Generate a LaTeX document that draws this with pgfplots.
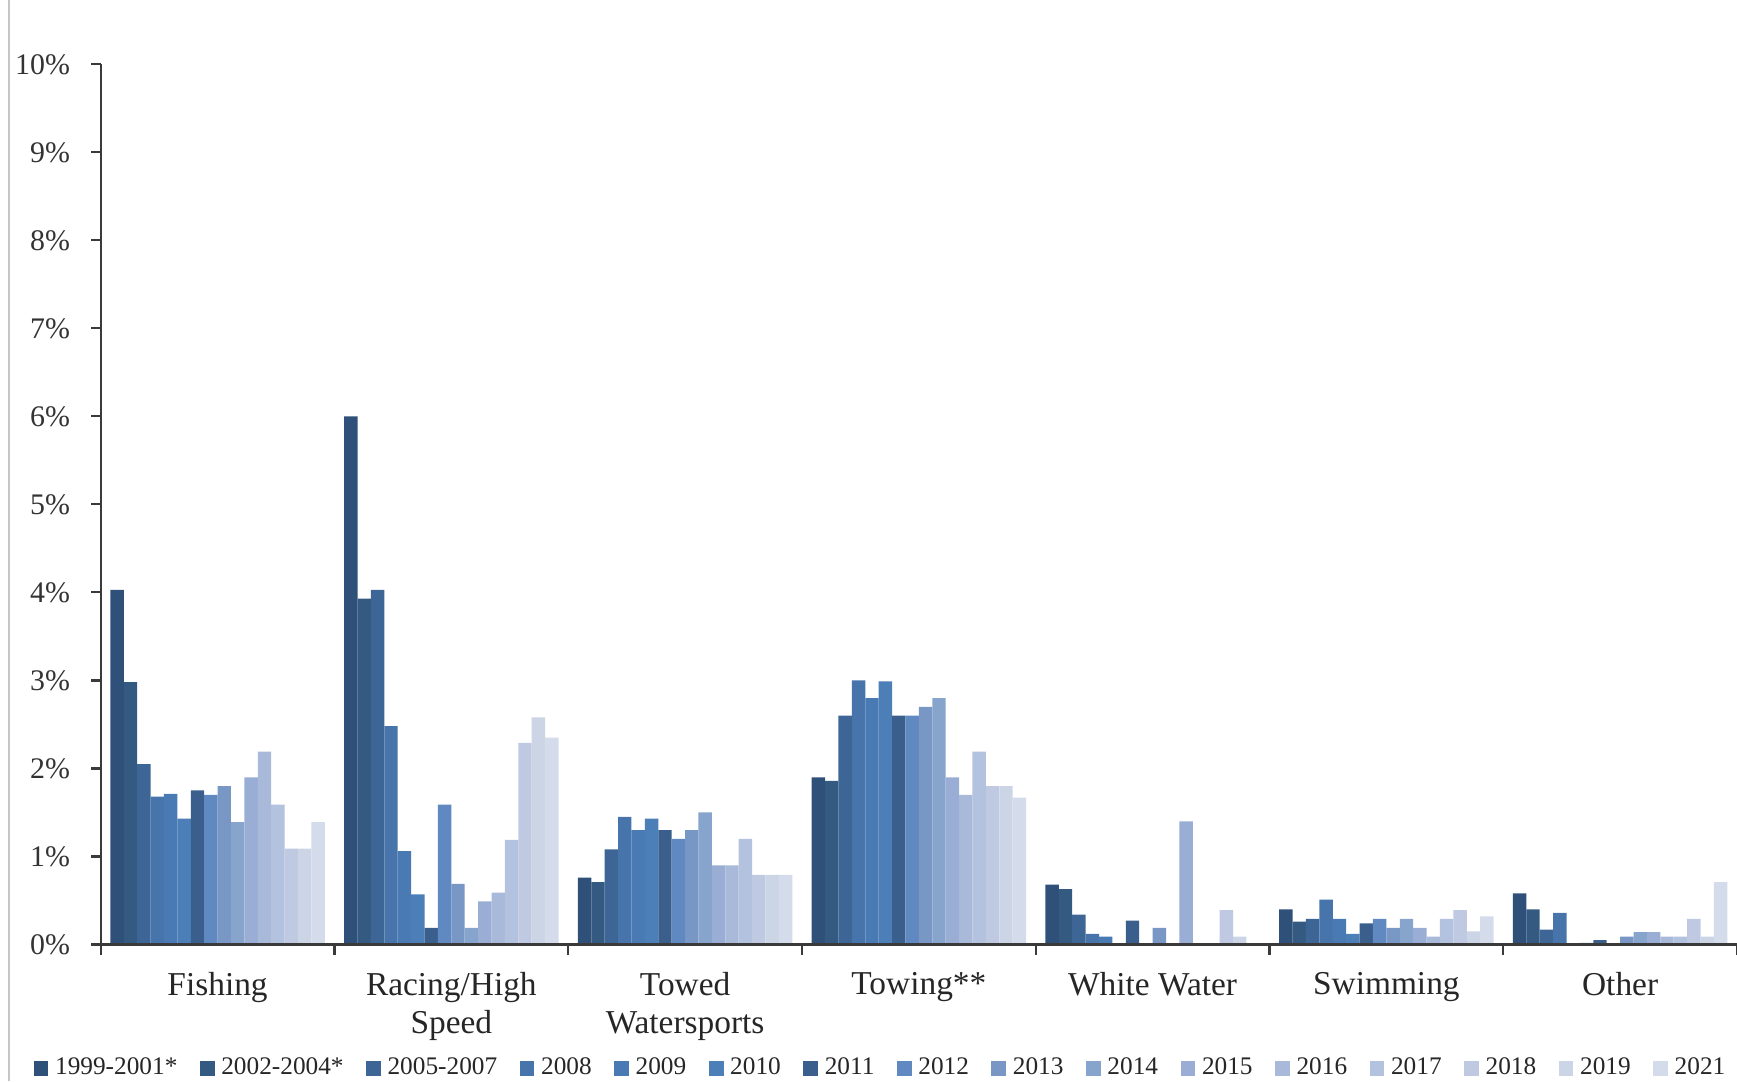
\documentclass[border=0pt]{standalone}
\usepackage{fontspec}
\setmainfont{Liberation Serif}
\usepackage{pgfplots}
\usepackage{pgfplotstable}
\pgfplotsset{compat=1.18}

% one colour per year range, dark to light
\definecolor{ca}{HTML}{2F5078}
\definecolor{cb}{HTML}{355A82}
\definecolor{cc}{HTML}{3D6596}
\definecolor{cd}{HTML}{4775AB}
\definecolor{ce}{HTML}{4A7AB3}
\definecolor{cf}{HTML}{4C7EB8}
\definecolor{cg}{HTML}{3A5F8C}
\definecolor{ch}{HTML}{5F89C0}
\definecolor{ci}{HTML}{7897C5}
\definecolor{cj}{HTML}{87A4CC}
\definecolor{ck}{HTML}{9AAED5}
\definecolor{cl}{HTML}{A9B9D9}
\definecolor{cm}{HTML}{B3C2DE}
\definecolor{cn}{HTML}{BFCAE2}
\definecolor{co}{HTML}{CCD5E6}
\definecolor{cp}{HTML}{D4DBEB}
\definecolor{axisgray}{HTML}{3A3A3A}

% x: 0 Fishing, 1 Racing/High Speed, 2 Towed Watersports, 3 Towing, 4 White Water, 5 Swimming, 6 Other
\pgfplotstableread{
x ya yb yc yd ye yf yg yh yi yj yk yl ym yn yo yp
0 4.03 2.98 2.05 1.68 1.71 1.43 1.75 1.70 1.80 1.39 1.90 2.19 1.59 1.09 1.09 1.39
1 6.00 3.93 4.03 2.48 1.06 0.57 0.19 1.59 0.69 0.19 0.49 0.59 1.19 2.29 2.58 2.35
2 0.76 0.71 1.08 1.45 1.30 1.43 1.30 1.20 1.30 1.50 0.90 0.90 1.20 0.79 0.79 0.79
3 1.90 1.86 2.60 3.00 2.80 2.99 2.60 2.60 2.70 2.80 1.90 1.70 2.19 1.80 1.80 1.67
4 0.68 0.63 0.34 0.12 0.09 0.00 0.27 0.00 0.19 0.00 1.40 0.00 0.00 0.39 0.09 0.00
5 0.40 0.26 0.29 0.51 0.29 0.12 0.24 0.29 0.19 0.29 0.19 0.09 0.29 0.39 0.15 0.32
6 0.58 0.40 0.17 0.36 0.00 0.02 0.05 0.00 0.09 0.14 0.14 0.09 0.09 0.29 0.09 0.71
}\rates

\pgfplotsset{sqleg/.style={legend image code/.code={\fill[##1] (0pt,-2.1pt) rectangle (4.2pt,2.1pt);}}}

\begin{document}
\begin{tikzpicture}
\useasboundingbox (0,0) rectangle (17.37cm,10.81cm);
\draw[gray!45, line width=0.6pt] (0.09cm,0) -- (0.09cm,10.81cm);
\begin{axis}[
    at={(1.007cm,1.365cm)}, anchor=south west,
    width=16.363cm, height=8.802cm, scale only axis,
    ybar=0pt, bar width=0.134cm,
    xmin=-0.5, xmax=6.5, ymin=0, ymax=10,
    axis x line*=bottom, axis y line*=left,
    axis line style={axisgray, line width=0.6pt},
    tick style={axisgray, line width=0.6pt},
    tick align=outside,
    major tick length=2.7pt, minor tick length=3pt,
    xtick={0,...,6},
    xticklabels={Fishing, Racing/High\\Speed, Towed\\Watersports, Towing**, White Water, Swimming, Other},
    minor xtick={-0.5,0.5,...,6.5},
    major x tick style={draw=none},
    ytick={0,...,10},
    yticklabels={0\%,1\%,2\%,3\%,4\%,5\%,6\%,7\%,8\%,9\%,10\%},
    xticklabel style={font=\fontsize{9.5}{10.7}\selectfont, align=center, yshift=-1.7pt, text=black!85},
    yticklabel style={font=\fontsize{8.5}{10}\selectfont, xshift=-2.5pt, text=black!80},
    axis on top,
    every axis plot post/.append style={sqleg, draw=none},
    legend columns=16,
    legend style={at={(-0.0414,-0.1408)}, anchor=west, draw=none, fill=none,
        inner xsep=0pt, inner ysep=0pt,
        font=\fontsize{7.2}{8}\selectfont, text=black!85,
        nodes={inner xsep=1.9pt, inner ysep=0pt},
        /tikz/every even column/.append style={column sep=4.5pt}},
]
\addplot[fill=ca] table[x=x, y=ya] {\rates}; \addlegendentry{1999-2001*}
\addplot[fill=cb] table[x=x, y=yb] {\rates}; \addlegendentry{2002-2004*}
\addplot[fill=cc] table[x=x, y=yc] {\rates}; \addlegendentry{2005-2007}
\addplot[fill=cd] table[x=x, y=yd] {\rates}; \addlegendentry{2008}
\addplot[fill=ce] table[x=x, y=ye] {\rates}; \addlegendentry{2009}
\addplot[fill=cf] table[x=x, y=yf] {\rates}; \addlegendentry{2010}
\addplot[fill=cg] table[x=x, y=yg] {\rates}; \addlegendentry{2011}
\addplot[fill=ch] table[x=x, y=yh] {\rates}; \addlegendentry{2012}
\addplot[fill=ci] table[x=x, y=yi] {\rates}; \addlegendentry{2013}
\addplot[fill=cj] table[x=x, y=yj] {\rates}; \addlegendentry{2014}
\addplot[fill=ck] table[x=x, y=yk] {\rates}; \addlegendentry{2015}
\addplot[fill=cl] table[x=x, y=yl] {\rates}; \addlegendentry{2016}
\addplot[fill=cm] table[x=x, y=ym] {\rates}; \addlegendentry{2017}
\addplot[fill=cn] table[x=x, y=yn] {\rates}; \addlegendentry{2018}
\addplot[fill=co] table[x=x, y=yo] {\rates}; \addlegendentry{2019}
\addplot[fill=cp] table[x=x, y=yp] {\rates}; \addlegendentry{2021}
\end{axis}
\end{tikzpicture}
\end{document}
